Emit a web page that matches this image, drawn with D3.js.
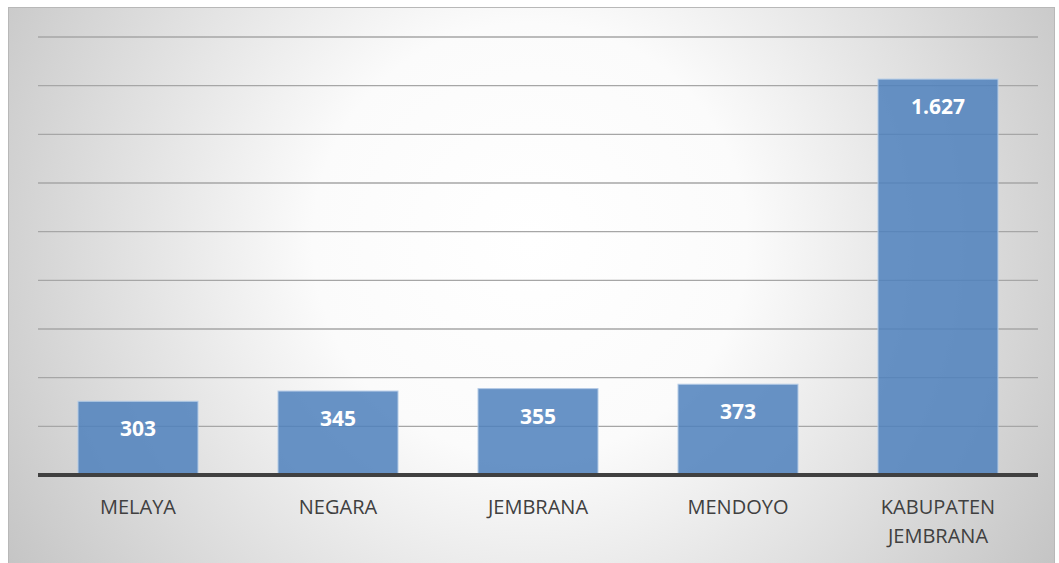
<!DOCTYPE html>
<html>
<head>
<meta charset="utf-8">
<script src="https://cdn.jsdelivr.net/npm/d3@7"></script>
<style>
  body { margin: 0; background: #fff; }
  .cat { font-family: "Open Sans", sans-serif; font-size: 20px; fill: #404040; }
  .val { font-family: "Open Sans", sans-serif; font-size: 21px; font-weight: bold; fill: #fff; }
</style>
</head>
<body>
<svg id="chart"></svg>
<script>
// data
const categories = ['MELAYA', 'NEGARA', 'JEMBRANA', 'MENDOYO', 'KABUPATEN JEMBRANA'];
const values = [303, 345, 355, 373, 1627];
const valueLabels = ['303', '345', '355', '373', '1.627'];
const yTicks = [0, 200, 400, 600, 800, 1000, 1200, 1400, 1600, 1800];

const width = 1059, height = 563;
const margin = { top: 37, right: 21, bottom: 88, left: 38 };

const svg = d3.select('#chart').attr('width', width).attr('height', height);

// background with radial gradient
const defs = svg.append('defs');
const grad = defs.append('radialGradient').attr('id', 'bg')
  .attr('gradientUnits', 'userSpaceOnUse')
  .attr('cx', 530).attr('cy', 240).attr('r', 620);
grad.append('stop').attr('offset', '0%').attr('stop-color', '#ffffff');
grad.append('stop').attr('offset', '35%').attr('stop-color', '#fbfbfb');
grad.append('stop').attr('offset', '100%').attr('stop-color', '#c4c4c4');

svg.append('rect')
  .attr('x', 8.5).attr('y', 7.5).attr('width', 1046).attr('height', 556)
  .attr('fill', 'url(#bg)').attr('stroke', '#b8b8b8').attr('stroke-width', 1);

const x = d3.scaleBand().domain(categories)
  .range([margin.left, width - margin.right]).paddingInner(0.4).paddingOuter(0.2);
const y = d3.scaleLinear().domain([0, 1800]).range([475, margin.top]);

// gridlines
svg.append('g').selectAll('line').data(yTicks.slice(1)).join('line')
  .attr('x1', margin.left).attr('x2', width - margin.right)
  .attr('y1', d => y(d)).attr('y2', d => y(d))
  .attr('stroke', '#a6a6a6').attr('stroke-width', 1.3);

// bars
svg.append('g').selectAll('rect').data(values).join('rect')
  .attr('x', (d, i) => x(categories[i]))
  .attr('y', d => y(d))
  .attr('width', x.bandwidth())
  .attr('height', d => y(0) - y(d))
  .attr('fill', '#4f81bd').attr('fill-opacity', 0.86)
  .attr('stroke', '#b4cbe6').attr('stroke-width', 1);

// value labels
svg.append('g').selectAll('text').data(values).join('text')
  .attr('class', 'val')
  .attr('x', (d, i) => x(categories[i]) + x.bandwidth() / 2)
  .attr('y', d => y(d) + 35)
  .attr('text-anchor', 'middle')
  .text((d, i) => valueLabels[i]);

// axis line
svg.append('line')
  .attr('x1', margin.left).attr('x2', width - margin.right)
  .attr('y1', y(0)).attr('y2', y(0))
  .attr('stroke', '#404040').attr('stroke-width', 4);

// category labels
const cat = svg.append('g').selectAll('text').data(categories).join('text')
  .attr('class', 'cat')
  .attr('x', d => x(d) + x.bandwidth() / 2)
  .attr('y', 514)
  .attr('text-anchor', 'middle');
cat.each(function (d) {
  const words = d.split(' ');
  const t = d3.select(this);
  words.forEach((w, k) => {
    t.append('tspan').attr('x', x(d) + x.bandwidth() / 2).attr('dy', k === 0 ? 0 : 29).text(w);
  });
});
</script>
</body>
</html>
